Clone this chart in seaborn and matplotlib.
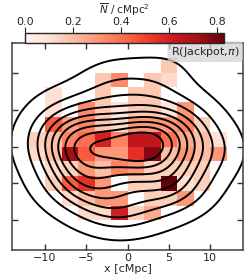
import numpy as np
import pandas as pd
import matplotlib
matplotlib.use("Agg")
import matplotlib.pyplot as plt
import seaborn as sns

# bin edges (cMpc)
x_edges = [-12, -10, -8, -6, -4, -2, 0, 2, 4, 6, 8, 10, 12]
y_edges = [-12, -10, -8, -6, -4, -2, 0, 2, 4, 6, 8, 10, 12]
# row centres, top to bottom
y_centers = [11, 9, 7, 5, 3, 1, -1, -3, -5, -7, -9, -11]

# mean counts per cMpc^2, rows from top (y=11) to bottom (y=-11), columns x=-11..11
row_p11 = [0, 0, 0, 0, 0, 0, 0, 0, 0.17, 0, 0, 0]
row_p09 = [0, 0, 0, 0, 0.17, 0.33, 0, 0.17, 0.12, 0, 0, 0]
row_p07 = [0, 0.1, 0, 0, 0.17, 0, 0.17, 0.17, 0, 0, 0, 0]
row_p05 = [0, 0.1, 0, 0.33, 0.17, 0.08, 0.17, 0.17, 0.08, 0.3, 0, 0]
row_p03 = [0, 0.45, 0.28, 0.35, 0.18, 0.12, 0.3, 0.3, 0.3, 0.35, 0.15, 0]
row_p01 = [0.15, 0.2, 0.35, 0.4, 0.6, 0.35, 0.65, 0.65, 0.4, 0.25, 0.2, 0.1]
row_m01 = [0.12, 0.2, 0.72, 0.45, 0.3, 0.3, 0.55, 0.78, 0.2, 0.3, 0.2, 0.3]
row_m03 = [0, 0.12, 0.15, 0.3, 0.2, 0.35, 0.3, 0.15, 0.15, 0.15, 0.15, 0]
row_m05 = [0, 0.15, 0.45, 0.55, 0.3, 0, 0.15, 0.15, 0.83, 0.1, 0.15, 0]
row_m07 = [0, 0, 0.12, 0.2, 0.3, 0.3, 0, 0.15, 0.15, 0.3, 0, 0]
row_m09 = [0, 0, 0, 0.12, 0.12, 0.6, 0.15, 0.25, 0, 0, 0, 0]
row_m11 = [0, 0, 0, 0, 0, 0, 0, 0, 0, 0, 0, 0]

rows = [row_p11, row_p09, row_p07, row_p05, row_p03, row_p01,
        row_m01, row_m03, row_m05, row_m07, row_m09, row_m11]

xt = [-10, -5, 0, 5, 10]
yt = [-10, -5, 0, 5, 10]
cb_ticks = [0.0, 0.2, 0.4, 0.6, 0.8]
vmax = 0.83

recs = []
for yc, r in zip(y_centers, rows):
    for j, v in enumerate(r):
        if v > 0:
            recs.append((x_edges[j] + 1, yc, v))
df = pd.DataFrame(recs, columns=["x", "y", "N"])

sns.set_style("ticks")
plt.rcParams["font.family"] = ["DejaVu Sans"]
plt.rcParams["font.size"] = 8

fig = plt.figure(figsize=(2.49, 2.79), dpi=100)
ax = fig.add_axes([12 / 249, 29 / 279, 231 / 249, 207 / 279])

sns.histplot(data=df, x="x", y="y", weights="N", bins=[x_edges, y_edges],
             cmap="Reds", ax=ax, cbar=False)
mesh = ax.collections[0]
mesh.set_clim(0, vmax)

sns.kdeplot(data=df, x="x", y="y", weights="N", levels=10, color="black",
            linewidths=1.4, bw_adjust=1.1, ax=ax)

ax.set_xlim(-14, 14)
ax.set_ylim(-14, 14)
ax.set_xticks(xt)
ax.set_yticks(yt)
ax.set_yticklabels([])
ax.set_xlabel("x [cMpc]", fontsize=8, labelpad=1)
ax.set_ylabel("")
ax.tick_params(direction="in", top=True, right=True, length=4.5, width=1,
               labelsize=8, pad=2, color="0.2")
for s in ax.spines.values():
    s.set_color("0.25")
    s.set_linewidth(1.1)

ax.text(0.985, 0.992, r"R(Jackpot,$\pi$)", transform=ax.transAxes,
        ha="right", va="top", fontsize=8,
        bbox=dict(boxstyle="round,pad=0.3", fc="lightgray", ec="none", alpha=0.75))

cax = fig.add_axes([25 / 249, (279 - 43) / 279, 199 / 249, 10 / 279])
cb = fig.colorbar(mesh, cax=cax, orientation="horizontal")
cax.xaxis.set_ticks_position("top")
cax.xaxis.set_label_position("top")
cb.set_ticks(cb_ticks)
cb.set_ticklabels([f"{t:.1f}" for t in cb_ticks])
cax.tick_params(labelsize=8, length=4, pad=0.5)
cb.set_label(r"$\overline{N}$ / cMpc$^2$", fontsize=7.5, labelpad=2)
cb.outline.set_linewidth(1)

fig.savefig("out.png", dpi=100)
